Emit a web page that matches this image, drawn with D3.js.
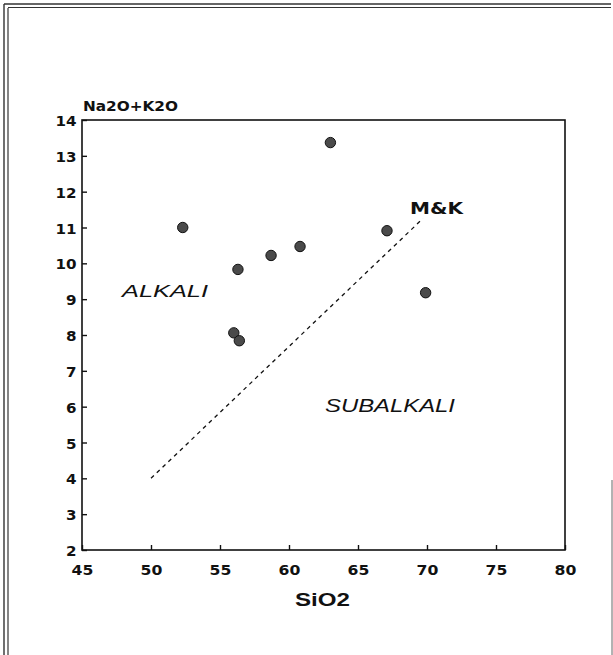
<!DOCTYPE html>
<html>
<head>
<meta charset="utf-8">
<script src="https://cdn.jsdelivr.net/npm/d3@7"></script>
<style>
  body { margin: 0; background: #fff; }
  svg { display: block; font-family: "Liberation Sans", Arial, sans-serif; }
</style>
</head>
<body>
<div id="chart"></div>
<script>
const width = 613;
const height = 655;

// data
const sio2 = [52.3, 56.3, 58.7, 60.8, 56.0, 56.4, 63.0, 67.1, 69.9];
const alkali = [11.0, 9.83, 10.22, 10.47, 8.06, 7.84, 13.37, 10.91, 9.18];
const mkLine = [[50, 4.0], [69.7, 11.25]];
const xTicks = [45, 50, 55, 60, 65, 70, 75, 80];
const yTicks = [2, 3, 4, 5, 6, 7, 8, 9, 10, 11, 12, 13, 14];

const svg = d3.select("#chart")
  .append("svg")
  .attr("width", width)
  .attr("height", height);

// scanned page frame
svg.append("line").attr("x1", 4).attr("y1", 4).attr("x2", 4).attr("y2", height).attr("stroke", "#222").attr("stroke-width", 1.3);
svg.append("line").attr("x1", 8).attr("y1", 8).attr("x2", 8).attr("y2", height).attr("stroke", "#222").attr("stroke-width", 1.1);
svg.append("line").attr("x1", 4).attr("y1", 4).attr("x2", 611).attr("y2", 4).attr("stroke", "#333").attr("stroke-width", 1.3);
svg.append("line").attr("x1", 8).attr("y1", 7.5).attr("x2", 611).attr("y2", 7.5).attr("stroke", "#333").attr("stroke-width", 1.1);
svg.append("line").attr("x1", 612).attr("y1", 480).attr("x2", 612).attr("y2", height).attr("stroke", "#666").attr("stroke-width", 1);

const x = d3.scaleLinear().domain([45, 80]).range([82, 565]);
const y = d3.scaleLinear().domain([2, 14]).range([550, 120]);

// plot box
svg.append("rect")
  .attr("x", x(45)).attr("y", y(14))
  .attr("width", x(80) - x(45)).attr("height", y(2) - y(14))
  .attr("fill", "none").attr("stroke", "#111").attr("stroke-width", 1.6);

const xAxis = svg.append("g")
  .attr("transform", `translate(0,${y(2)})`)
  .call(d3.axisBottom(x).tickValues(xTicks).tickSize(-5).tickFormat(d3.format("d")));
xAxis.select(".domain").remove();
xAxis.selectAll("line").attr("stroke", "#111").attr("stroke-width", 1.4);
xAxis.selectAll("text")
  .attr("y", 25).attr("dy", 0)
  .attr("transform", "scale(1.12,1)")
  .attr("font-family", "'DejaVu Sans', sans-serif")
  .attr("font-size", "14px").attr("font-weight", "bold").attr("fill", "#111");

const yAxis = svg.append("g")
  .attr("transform", `translate(${x(45)},0)`)
  .call(d3.axisLeft(y).tickValues(yTicks).tickSize(-5).tickFormat(d3.format("d")));
yAxis.select(".domain").remove();
yAxis.selectAll("line").attr("stroke", "#111").attr("stroke-width", 1.4);
yAxis.selectAll("text")
  .attr("x", -5).attr("dy", "0.4em")
  .attr("transform", "scale(1.08,1)")
  .attr("font-family", "'DejaVu Sans', sans-serif")
  .attr("font-size", "14px").attr("font-weight", "bold").attr("fill", "#111");

// M&K dividing line
svg.append("path")
  .datum(mkLine)
  .attr("d", d3.line().x(d => x(d[0])).y(d => y(d[1])))
  .attr("fill", "none")
  .attr("stroke", "#111")
  .attr("stroke-width", 1.3)
  .attr("stroke-dasharray", "4,4");

// samples
svg.selectAll("circle")
  .data(sio2)
  .enter()
  .append("circle")
  .attr("cx", d => x(d))
  .attr("cy", (d, i) => y(alkali[i]))
  .attr("r", 5.2)
  .attr("fill", "#4a4a4a")
  .attr("stroke", "#111")
  .attr("stroke-width", 1);

// labels
svg.append("text").attr("x", 83).attr("y", 111)
  .attr("font-family", "'DejaVu Sans', sans-serif")
  .attr("font-size", "14px").attr("font-weight", "bold").attr("fill", "#111")
  .attr("textLength", 95).attr("lengthAdjust", "spacingAndGlyphs")
  .text("Na2O+K2O");

svg.append("text").attr("x", 295).attr("y", 606)
  .attr("font-size", "19px").attr("font-weight", "bold").attr("fill", "#111")
  .attr("textLength", 55).attr("lengthAdjust", "spacingAndGlyphs")
  .text("SiO2");

svg.append("text").attr("x", 410).attr("y", 214)
  .attr("font-family", "'DejaVu Sans', sans-serif")
  .attr("font-size", "15px").attr("font-weight", "bold").attr("fill", "#111")
  .attr("textLength", 53).attr("lengthAdjust", "spacingAndGlyphs")
  .text("M&K");

svg.append("text").attr("x", 122).attr("y", 297)
  .attr("font-size", "17px").attr("font-style", "italic").attr("fill", "#111")
  .attr("textLength", 86).attr("lengthAdjust", "spacingAndGlyphs")
  .text("ALKALI");

svg.append("text").attr("x", 325).attr("y", 412)
  .attr("font-size", "18px").attr("font-style", "italic").attr("fill", "#111")
  .attr("textLength", 130).attr("lengthAdjust", "spacingAndGlyphs")
  .text("SUBALKALI");
</script>
</body>
</html>
